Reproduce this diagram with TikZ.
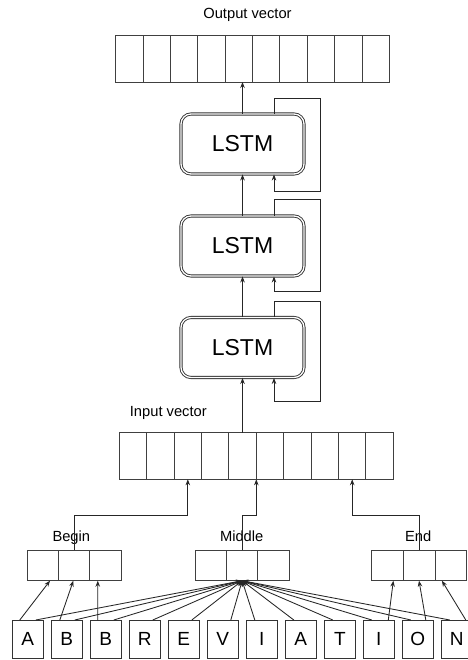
\documentclass[tikz,border=0pt]{standalone}
\usepackage{fontspec}
\setmainfont{Liberation Sans}
\usetikzlibrary{arrows.meta,calc}

\begin{document}
\begin{tikzpicture}[x=1pt,y=-1pt,
  ln/.style={draw=black!85, line width=0.85pt},
  arr/.style={ln, -{Stealth[length=6pt,width=4.5pt]}},
  cell/.style={draw=black!75, line width=0.85pt, inner sep=0pt, outer sep=0pt,
    minimum width=#1},
  lbl/.style={anchor=base, inner sep=0pt, font=\fontsize{14.7}{17}\selectfont},
  letter/.style={draw=black!80, line width=0.85pt, inner sep=0pt, outer sep=0pt,
    minimum width=31pt, minimum height=38.5pt,
    font=\fontsize{19}{20}\selectfont},
  lstm/.style={draw=black!80, line width=0.9pt, double, double distance=1.3pt,
    rounded corners=10pt, minimum width=123pt, minimum height=60pt,
    inner sep=0pt, font=\fontsize{23}{25}\selectfont}
]
\useasboundingbox[fill=white] (0,0) rectangle (467,660);

% output vector
\foreach \i in {1,...,10}
  \node[cell=27.36pt, minimum height=47pt] (o\i) at ({115.7+27.36*(\i-0.5)},58.5) {};
\node[lbl] (tout) at (247.5,19) {Output vector};

% input vector
\foreach \i in {1,...,10}
  \node[cell=27.4pt, minimum height=46.6pt] (in\i) at ({119.3+27.4*(\i-0.5)},456) {};
\node[lbl] (tin) at (168.3,416) {Input vector};

% LSTM stack
\node[lstm] (s1) at (242.5,347.5) {LSTM};
\node[lstm] (s2) at (242.5,246) {LSTM};
\node[lstm] (s3) at (242.5,144) {LSTM};

\draw[arr] (s1.south |- in5.north) -- (s1.south);
\draw[arr] (s1.north) -- (s2.south);
\draw[arr] (s2.north) -- (s3.south);
\draw[arr] (s3.north) -- (s3.north |- o5.south);

% recurrent loops
\draw[arr] ($(s3.north)+(31.5,0)$) |- (320.7,98) |- ($(s3.south)+(31.5,16.7)$) -- ($(s3.south)+(31.5,0)$);
\draw[arr] ($(s2.north)+(31.5,0)$) |- (320.7,199.3) |- ($(s2.south)+(31.5,15)$) -- ($(s2.south)+(31.5,0)$);
\draw[arr] ($(s1.north)+(31.5,0)$) |- (320.7,301.7) |- ($(s1.south)+(31.5,23.7)$) -- ($(s1.south)+(31.5,0)$);

% begin / middle / end slices
\foreach \i in {1,2,3}{
  \node[cell=31.23pt, minimum height=30.7pt] (b\i) at ({27.3+31.23*(\i-0.5)},565.35) {};
  \node[cell=31.43pt, minimum height=30.7pt] (m\i) at ({195+31.43*(\i-0.5)},565.35) {};
  \node[cell=31.67pt, minimum height=30.7pt] (e\i) at ({371.7+31.67*(\i-0.5)},565.35) {};
}
\node[lbl] (tb) at (71.3,541) {Begin};
\node[lbl] (tm) at (241.7,541) {Middle};
\node[lbl] (te) at (418.2,541) {End};

\draw[arr] (b2.north) -- ++(0,-35) -| (in3.south);
\draw[arr] (m2.north) -- ++(0,-35) -| (in5.south east);
\draw[arr] (e2.north) -- ++(0,-35) -| (in9.south);

% characters
\foreach \l [count=\i] in {A,B,B,R,E,V,I,A,T,I,O,N}
  \node[letter] (L\i) at ({27.8+39*(\i-1)},639.25) {\l};

\draw[arr] ($(L1.north)+(-8,0)$) -- ($(b1.south)+(7.1,0)$);
\draw[arr] ($(L2.north)+(-7,0)$) -- ($(b2.south)+(-0.8,0)$);
\draw[arr] ($(L3.north)+(-8,0)$) -- ($(b3.south)+(-7.6,0)$);

\draw[arr] ($(L10.north)+(9.5,0)$) -- ($(e1.south)+(5.8,0)$);
\draw[arr] ($(L11.north)+(8,0)$) -- ($(e2.south)+(-0.2,0)$);
\draw[arr] ($(L12.north)+(9,0)$) -- ($(e3.south)+(-9,0)$);

\foreach \i in {1,...,6}
  \draw[arr] ($(L\i.north)+(8,0)$) -- (m2.south);
\foreach \i in {7,...,12}
  \draw[arr] ($(L\i.north)+(-7,0)$) -- (m2.south);
\end{tikzpicture}
\end{document}
